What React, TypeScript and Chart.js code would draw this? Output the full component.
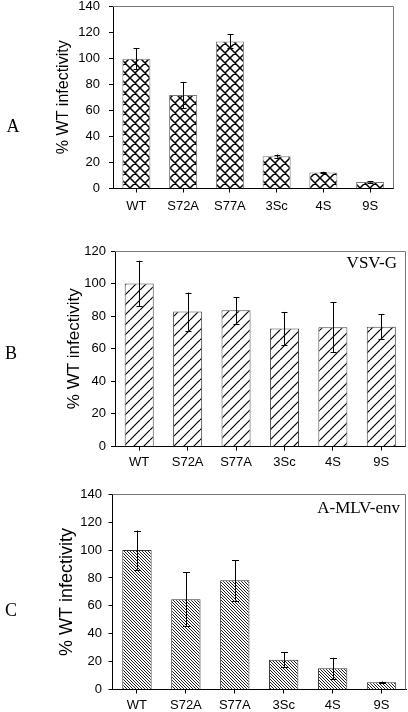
import React, { useEffect, useRef } from 'react';
import { Chart, registerables } from 'chart.js';

Chart.register(...registerables);

// ---------- data ----------
const categories = ['WT', 'S72A', 'S77A', '3Sc', '4S', '9S'];

const valuesA = [99.5, 71.8, 112.8, 24.8, 12.3, 5.0];
const errorsA = [8.0, 10.0, 5.4, 1.2, 0.5, 0.5];

const valuesB = [100, 82.8, 83.6, 72.4, 73.2, 73.5];
const errorsB = [14.0, 11.7, 8.2, 10.2, 15.2, 7.7];

const valuesC = [100, 64.8, 78.3, 21.3, 15.2, 5.2];
const errorsC = [14.0, 19.4, 14.5, 5.4, 7.6, 0.5];

const yMaxA = 140;
const yMaxB = 120;
const yMaxC = 140;
const yStep = 20;

const yTitle = '% WT infectivity';
const panelLetters = ['A', 'B', 'C'];
const insetLabels = ['', 'VSV-G', 'A-MLV-env'];

// ---------- styling / layout ----------
const W = 408;
const SANS = '"Liberation Sans", Arial, Helvetica, sans-serif';
const SERIF = '"Liberation Serif", "Times New Roman", Times, serif';

type Area = { left: number; right: number; top: number; bottom: number };
type PanelCfg = {
  values: number[];
  errors: number[];
  yMax: number;
  canvasTop: number;
  canvasH: number;
  area: Area;
  titleX: number;
  titleSize: number;
  letter: string;
  letterPos: [number, number];
  inset: string;
  insetPos: [number, number];
  xTickPad: number;
  yTickPad: number;
  pattern: 'cross' | 'slash' | 'back';
  barBorder: string;
  capHalf: number;
};

const panels: PanelCfg[] = [
  {
    values: valuesA, errors: errorsA, yMax: yMaxA,
    canvasTop: -12, canvasH: 242,
    area: { left: 113, right: 393.5, top: 6, bottom: 188.5 },
    titleX: 63.3, titleSize: 16,
    letter: panelLetters[0], letterPos: [13, 127],
    inset: insetLabels[0], insetPos: [0, 0],
    xTickPad: 6.5, yTickPad: 9, pattern: 'cross', barBorder: '#777', capHalf: 3,
  },
  {
    values: valuesB, errors: errorsB, yMax: yMaxB,
    canvasTop: 230, canvasH: 245,
    area: { left: 115, right: 405.5, top: 251, bottom: 446.5 },
    titleX: 74, titleSize: 17,
    letter: panelLetters[1], letterPos: [11, 354],
    inset: insetLabels[1], insetPos: [397, 263.5],
    xTickPad: 4.5, yTickPad: 5, pattern: 'slash', barBorder: '#444', capHalf: 3,
  },
  {
    values: valuesC, errors: errorsC, yMax: yMaxC,
    canvasTop: 475, canvasH: 237,
    area: { left: 112.5, right: 406, top: 494.3, bottom: 689.5 },
    titleX: 67.5, titleSize: 18,
    letter: panelLetters[2], letterPos: [11, 611],
    inset: insetLabels[2], insetPos: [400, 509],
    xTickPad: 4.5, yTickPad: 6.5, pattern: 'back', barBorder: '#333', capHalf: 3.5,
  },
];

function makePattern(kind: 'cross' | 'slash' | 'back'): CanvasPattern | string {
  const s = kind === 'back' ? 3 : 10;
  const c = document.createElement('canvas');
  c.width = s;
  c.height = s;
  const g = c.getContext('2d');
  if (!g) return '#fff';
  g.fillStyle = '#fff';
  g.fillRect(0, 0, s, s);
  g.strokeStyle = kind === 'back' ? '#222' : '#000';
  g.lineWidth = kind === 'cross' ? 1.5 : kind === 'slash' ? 1.2 : 1;
  g.beginPath();
  for (const off of [-s, 0, s]) {
    if (kind === 'cross' || kind === 'back') {
      g.moveTo(off, 0);
      g.lineTo(off + s, s);
    }
    if (kind === 'cross' || kind === 'slash') {
      g.moveTo(off, s);
      g.lineTo(off + s, 0);
    }
  }
  g.stroke();
  const p = g.createPattern(c, 'repeat');
  return p || '#fff';
}

function Panel({ cfg }: { cfg: PanelCfg }) {
  const ref = useRef<HTMLCanvasElement | null>(null);

  useEffect(() => {
    const canvas = ref.current;
    if (!canvas) return;
    const top = cfg.area.top - cfg.canvasTop;
    const bottom = cfg.area.bottom - cfg.canvasTop;

    const decor = {
      id: 'decor',
      afterDatasetsDraw(chart: any) {
        const ctx = chart.ctx as CanvasRenderingContext2D;
        const ys = chart.scales.y;
        const meta = chart.getDatasetMeta(0);
        ctx.save();
        ctx.strokeStyle = '#000';
        ctx.lineWidth = 1;
        meta.data.forEach((el: any, i: number) => {
          const v = cfg.values[i];
          const e = cfg.errors[i];
          const x = Math.round(el.x) + 0.5;
          const yHi = ys.getPixelForValue(v + e);
          const yLo = ys.getPixelForValue(v - e);
          ctx.beginPath();
          ctx.moveTo(x, yHi);
          ctx.lineTo(x, yLo);
          ctx.moveTo(x - cfg.capHalf, Math.round(yHi) + 0.5);
          ctx.lineTo(x + cfg.capHalf, Math.round(yHi) + 0.5);
          ctx.moveTo(x - cfg.capHalf, Math.round(yLo) + 0.5);
          ctx.lineTo(x + cfg.capHalf, Math.round(yLo) + 0.5);
          ctx.stroke();
        });
        ctx.restore();
      },
      afterDraw(chart: any) {
        const ctx = chart.ctx as CanvasRenderingContext2D;
        const a = chart.chartArea;
        ctx.save();
        // frame top + right
        ctx.strokeStyle = '#777';
        ctx.lineWidth = 1;
        ctx.beginPath();
        const t = Math.round(a.top) + 0.5;
        const r = Math.round(a.right) - 0.5;
        ctx.moveTo(a.left, t);
        ctx.lineTo(r, t);
        ctx.lineTo(r, a.bottom);
        ctx.stroke();
        // panel letter
        ctx.fillStyle = '#000';
        ctx.font = `18px ${SERIF}`;
        ctx.textAlign = 'center';
        ctx.textBaseline = 'middle';
        ctx.fillText(cfg.letter, cfg.letterPos[0], cfg.letterPos[1] - cfg.canvasTop);
        // inset label
        if (cfg.inset) {
          ctx.font = `17px ${SERIF}`;
          ctx.textAlign = 'right';
          ctx.fillText(cfg.inset, cfg.insetPos[0], cfg.insetPos[1] - cfg.canvasTop);
        }
        ctx.restore();
      },
    };

    const chart = new Chart(canvas, {
      type: 'bar',
      data: {
        labels: categories,
        datasets: [
          {
            data: cfg.values,
            backgroundColor: makePattern(cfg.pattern) as any,
            borderColor: cfg.barBorder,
            borderWidth: 1,
            barPercentage: 0.6,
            categoryPercentage: 1,
          },
        ],
      },
      options: {
        responsive: false,
        animation: false,
        devicePixelRatio: 1,
        layout: {
          padding: { left: 0, top, right: W - cfg.area.right, bottom: 0 },
        },
        plugins: {
          legend: { display: false },
          tooltip: { enabled: false },
          title: { display: false },
        },
        scales: {
          x: {
            offset: true,
            grid: {
              offset: false,
              drawOnChartArea: false,
              drawTicks: true,
              tickLength: 4,
              color: '#000',
            },
            border: { display: true, color: '#000', width: 1 },
            ticks: {
              color: '#000',
              padding: cfg.xTickPad,
              font: { size: 13, family: SANS, lineHeight: 1.2 },
              maxRotation: 0,
              autoSkip: false,
            },
            afterFit: (s: any) => {
              s.height = cfg.canvasH - bottom;
            },
          },
          y: {
            min: 0,
            max: cfg.yMax,
            grid: {
              drawOnChartArea: false,
              drawTicks: true,
              tickLength: 4,
              color: '#000',
            },
            border: { display: true, color: '#000', width: 1 },
            ticks: {
              stepSize: yStep,
              color: '#000',
              padding: cfg.yTickPad,
              font: { size: 13, family: SANS, lineHeight: 1.2 },
            },
            title: {
              display: true,
              text: yTitle,
              color: '#000',
              font: { size: cfg.titleSize, family: SANS, lineHeight: 1 },
              padding: { top: cfg.titleX - cfg.titleSize / 2, bottom: 0 },
            },
            afterFit: (s: any) => {
              s.width = cfg.area.left;
            },
          },
        },
      },
      plugins: [decor],
    } as any);

    return () => {
      chart.destroy();
    };
  }, [cfg]);

  return (
    <canvas
      ref={ref}
      width={W}
      height={cfg.canvasH}
      style={{
        position: 'absolute',
        left: 0,
        top: cfg.canvasTop,
        width: W,
        height: cfg.canvasH,
        display: 'block',
      }}
    />
  );
}

export default function App() {
  return (
    <div
      style={{
        position: 'absolute',
        left: 0,
        top: 0,
        width: W,
        height: 712,
        overflow: 'hidden',
        background: '#fff',
      }}
    >
      {panels.map((p, i) => (
        <Panel key={i} cfg={p} />
      ))}
    </div>
  );
}
